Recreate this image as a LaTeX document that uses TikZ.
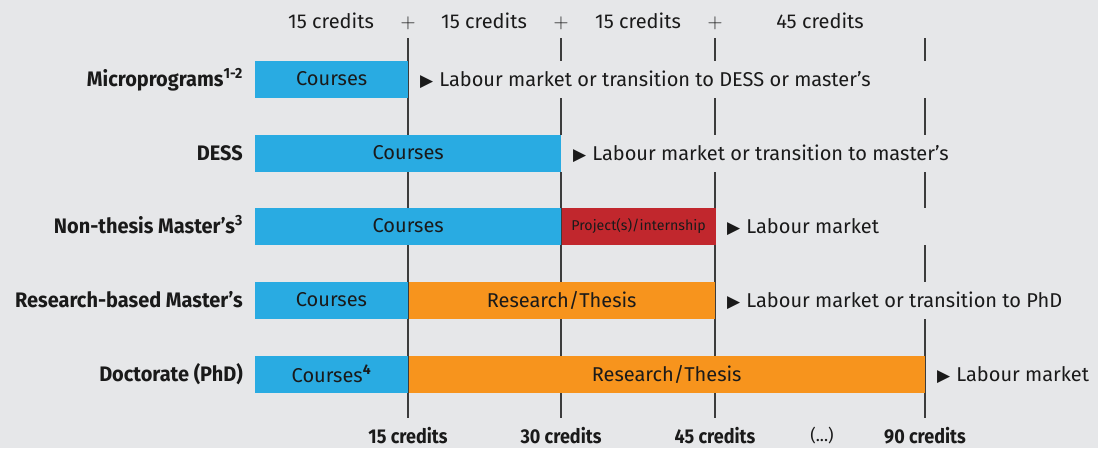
\documentclass[tikz,border=0pt]{standalone}
\usepackage{fontspec}
\setmainfont{Fira Sans}
\newfontfamily\heavyfont{Fira Sans}[FakeStretch=0.95]
\newfontfamily\totalfont{Fira Sans}[FakeStretch=0.9]
\newfontfamily\symbolfont{DejaVu Sans}

\definecolor{bg}{HTML}{E6E7E9}
\definecolor{courseblue}{HTML}{29ABE2}
\definecolor{thesisorange}{HTML}{F7941D}
\definecolor{projectred}{HTML}{C1272D}
\definecolor{rulegray}{HTML}{3C3C3C}
\definecolor{ink}{HTML}{1A1A1A}

\newcommand\plainsize{\fontsize{20}{22}\selectfont}
\newcommand\tri{{\fontsize{17}{17}\selectfont\symbolfont\char"25B6}}

\begin{document}
\begin{tikzpicture}[x=1pt, y=-1pt,
  every node/.style={font=\plainsize, text=ink, inner sep=0pt},
  bar/.style={anchor=west, minimum height=37pt},
  prog/.style={anchor=base east, font=\fontsize{21}{23}\selectfont\heavyfont\bfseries},
  outcome/.style={anchor=base west},
  total/.style={anchor=base, font=\plainsize\totalfont\bfseries},
  plus/.style={anchor=base, font=\fontsize{22}{22}\selectfont},
  tick/.style={rulegray, line width=1.1pt},
  gap/.style={fill=bg}]
  % background and page size
  \fill[bg] (0,0) rectangle (1098,448);
  \useasboundingbox (0,0) rectangle (1098,448);

  % credits per block along the top
  \node[anchor=base] (h1) at (331,28) {15 credits};
  \node[plus] (p1) at (408,28) {$+$};
  \node[anchor=base] (h2) at (484,28) {15 credits};
  \node[plus] (p2) at (561,28) {$+$};
  \node[anchor=base] (h3) at (638,28) {15 credits};
  \node[plus] (p3) at (715,28) {$+$};
  \node[anchor=base] (h4) at (820,28) {45 credits};

  % vertical credit rules
  \foreach \x/\n in {408/r15, 561/r30, 715/r45, 925/r90} {
    \coordinate (\n top) at (\x,38);
    \coordinate (\n bot) at (\x,418);
    \draw[tick] (\n top) -- (\n bot);
  }

  % Microprograms
  \fill[gap] (409,60.5) rectangle (1000,97.5);
  \node[bar, fill=courseblue, minimum width=153pt] (micro courses) at (255,79) {Courses};
  \node[prog] (micro) at (243,86) {Microprograms\textsuperscript{1-2}};
  \node[outcome] (micro out) at (420,86) {\tri\hspace{6pt}Labour market or transition to DESS or master’s};

  % DESS
  \fill[gap] (561,134.5) rectangle (1000,171.5);
  \node[bar, fill=courseblue, minimum width=306pt] (dess courses) at (255,153) {Courses};
  \node[prog] (dess) at (243,160) {DESS};
  \node[outcome] (dess out) at (573,160) {\tri\hspace{6pt}Labour market or transition to master’s};

  % Non-thesis master's
  \fill[gap] (716,207.5) rectangle (1000,244.5);
  \node[bar, fill=courseblue, minimum width=306pt] (nt courses) at (255,226) {Courses};
  \node[bar, fill=projectred, minimum width=154pt, font=\fontsize{14.2}{16}\selectfont] (nt project) at (nt courses.east) {Project(s)/internship};
  \node[prog] (nonthesis) at (243,233) {Non-thesis Master’s\textsuperscript{3}};
  \node[outcome] (nt out) at (727,233) {\tri\hspace{6pt}Labour market};

  % Research-based master's
  \fill[gap] (716,281.5) rectangle (1000,318.5);
  \node[bar, fill=courseblue, minimum width=152.5pt] (rb courses) at (255,300) {Courses};
  \node[bar, fill=thesisorange, minimum width=306pt] (rb thesis) at (408.5,300) {Research/Thesis};
  \node[prog] (research) at (243,307) {Research-based Master’s};
  \node[outcome] (rb out) at (727,307) {\tri\hspace{6pt}Labour market or transition to PhD};

  % Doctorate
  \node[bar, fill=courseblue, minimum width=152.5pt] (phd courses) at (255,374) {Courses\textsuperscript{\bfseries 4}};
  \node[bar, fill=thesisorange, minimum width=516pt] (phd thesis) at (408.5,374) {Research/Thesis};
  \node[prog] (phd) at (243,381) {Doctorate (PhD)};
  \node[outcome] (phd out) at (937,381) {\tri\hspace{6pt}Labour market};

  % cumulative totals along the bottom
  \node[total] (c15) at (408,443) {15 credits};
  \node[total] (c30) at (561,443) {30 credits};
  \node[total] (c45) at (715,443) {45 credits};
  \node[anchor=base, font=\fontsize{17}{18}\selectfont] (dots) at (822,441) {(...)};
  \node[total] (c90) at (925,443) {90 credits};
\end{tikzpicture}
\end{document}
